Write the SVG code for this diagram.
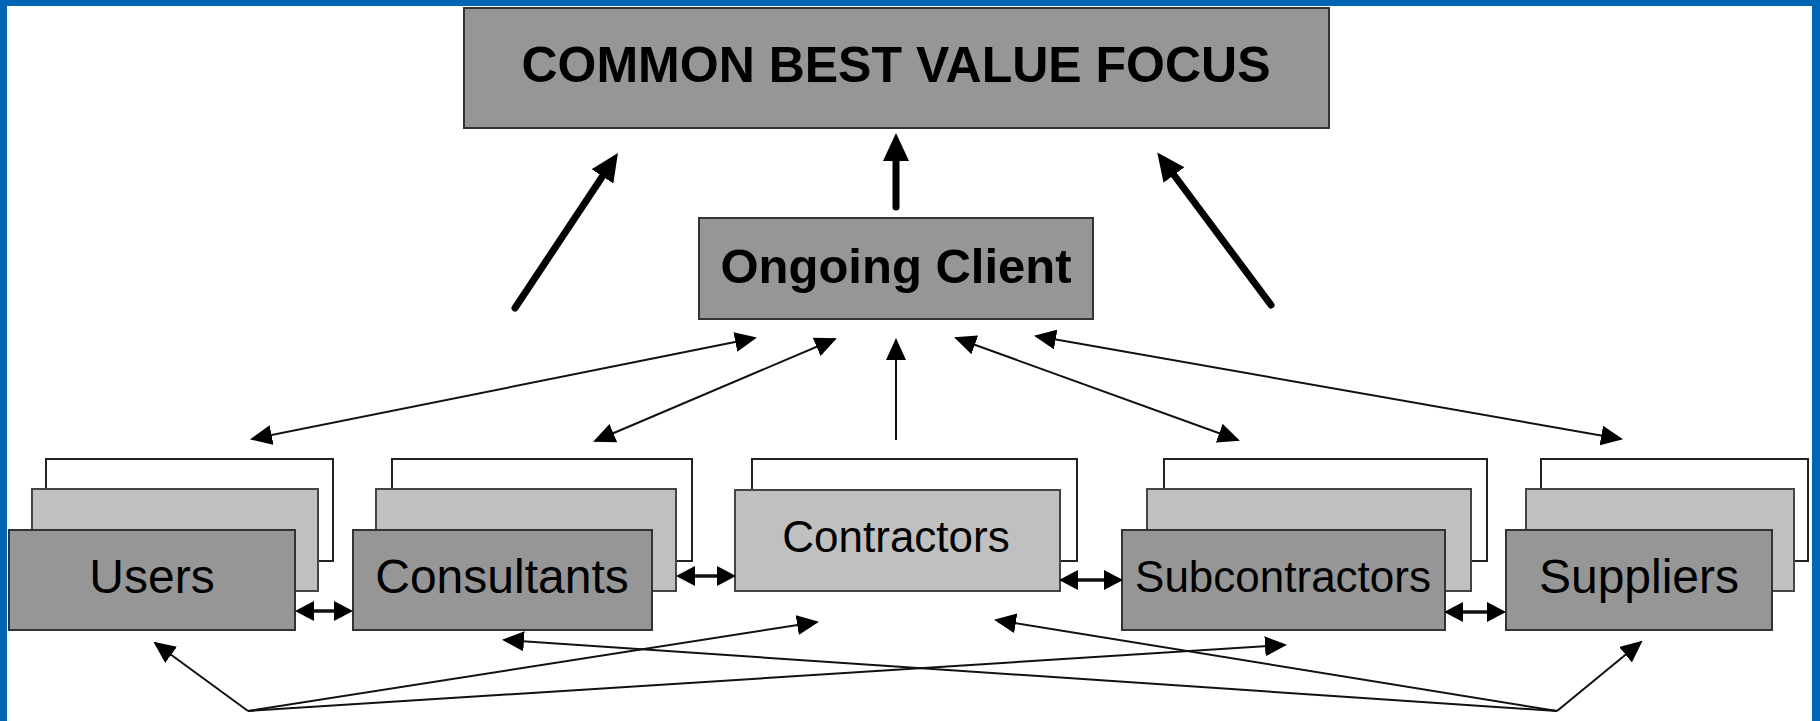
<svg xmlns="http://www.w3.org/2000/svg" width="1820" height="721" viewBox="0 0 1820 721">
<style>
.frame{fill:#0066b3}
.back{fill:#ffffff;stroke:#222;stroke-width:2}
.mid{fill:#c0c0c0;stroke:#444;stroke-width:2}
.front{fill:#969696;stroke:#333;stroke-width:2}
.lbl{font-family:"Liberation Sans",Arial,sans-serif;fill:#000;text-anchor:middle}
.bold{font-weight:bold}
.thin{stroke:#111;stroke-width:2;fill:none}
.thick{stroke:#000;stroke-width:7;stroke-linecap:round;fill:none}
.med{stroke:#111;stroke-width:3.5;fill:none}
</style>
<defs>
<marker id="ah" markerUnits="userSpaceOnUse" markerWidth="22" markerHeight="20" refX="20" refY="10" orient="auto-start-reverse">
<path d="M0,0 L22,10 L0,20 z" fill="#000"/>
</marker>
<marker id="ahBig" markerUnits="userSpaceOnUse" markerWidth="30" markerHeight="26" refX="10" refY="13" orient="auto">
<path d="M0,0 L28,13 L0,26 z" fill="#000"/>
</marker>
<marker id="ahMed" markerUnits="userSpaceOnUse" markerWidth="20" markerHeight="20" refX="8" refY="10" orient="auto-start-reverse">
<path d="M0,0 L19,10 L0,20 z" fill="#000"/>
</marker>
</defs>
<rect x="0" y="0" width="1820" height="721" fill="#ffffff"/>
<rect class="frame" x="0" y="0" width="1820" height="6"/>
<rect class="frame" x="0" y="0" width="7" height="721"/>
<rect class="frame" x="1812" y="0" width="8" height="721"/>

<g id="common-best-value-focus">
<rect class="front" x="464" y="8" width="865" height="120"/>
<text class="lbl bold" x="896" y="82" font-size="50">COMMON BEST VALUE FOCUS</text>
</g>

<g id="ongoing-client">
<rect class="front" x="699" y="218" width="394" height="101"/>
<text class="lbl bold" x="896" y="283" font-size="49">Ongoing Client</text>
</g>

<g id="users">
<rect class="back" x="46" y="459" width="287" height="102"/>
<rect class="mid" x="32" y="489" width="286" height="102"/>
<rect class="front" x="9" y="530" width="286" height="100"/>
<text class="lbl" x="152" y="593" font-size="48">Users</text>
</g>

<g id="consultants">
<rect class="back" x="392" y="459" width="300" height="102"/>
<rect class="mid" x="376" y="489" width="300" height="102"/>
<rect class="front" x="353" y="530" width="299" height="100"/>
<text class="lbl" x="502" y="593" font-size="48">Consultants</text>
</g>

<g id="contractors">
<rect class="back" x="752" y="459" width="325" height="102"/>
<rect class="mid" x="735" y="490" width="325" height="101"/>
<text class="lbl" x="896" y="552" font-size="44">Contractors</text>
</g>

<g id="subcontractors">
<rect class="back" x="1164" y="459" width="323" height="102"/>
<rect class="mid" x="1147" y="489" width="324" height="102"/>
<rect class="front" x="1122" y="530" width="323" height="100"/>
<text class="lbl" x="1283" y="592" font-size="44">Subcontractors</text>
</g>

<g id="suppliers">
<rect class="back" x="1541" y="459" width="267" height="102"/>
<rect class="mid" x="1526" y="489" width="268" height="102"/>
<rect class="front" x="1506" y="530" width="266" height="100"/>
<text class="lbl" x="1639" y="593" font-size="48">Suppliers</text>
</g>

<g id="connectors">
<line class="thick" x1="515" y1="308" x2="608" y2="168" marker-end="url(#ahBig)"/>
<line class="thick" x1="896" y1="207" x2="896" y2="151" marker-end="url(#ahBig)"/>
<line class="thick" x1="1271" y1="305" x2="1168" y2="167" marker-end="url(#ahBig)"/>

<line class="thin" x1="252" y1="439" x2="755" y2="338" marker-start="url(#ah)" marker-end="url(#ah)"/>
<line class="thin" x1="595" y1="441" x2="835" y2="339" marker-start="url(#ah)" marker-end="url(#ah)"/>
<line class="thin" x1="896" y1="440" x2="896" y2="340" marker-end="url(#ah)"/>
<line class="thin" x1="956" y1="338" x2="1238" y2="440" marker-start="url(#ah)" marker-end="url(#ah)"/>
<line class="thin" x1="1036" y1="336" x2="1621" y2="439" marker-start="url(#ah)" marker-end="url(#ah)"/>

<line class="med" x1="306" y1="611" x2="342" y2="611" marker-start="url(#ahMed)" marker-end="url(#ahMed)"/>
<line class="med" x1="687" y1="576" x2="725" y2="576" marker-start="url(#ahMed)" marker-end="url(#ahMed)"/>
<line class="med" x1="1070" y1="580" x2="1112" y2="580" marker-start="url(#ahMed)" marker-end="url(#ahMed)"/>
<line class="med" x1="1455" y1="612" x2="1495" y2="612" marker-start="url(#ahMed)" marker-end="url(#ahMed)"/>

<line class="thin" x1="248" y1="711" x2="155" y2="643" marker-end="url(#ah)"/>
<line class="thin" x1="248" y1="711" x2="817" y2="622" marker-end="url(#ah)"/>
<line class="thin" x1="248" y1="711" x2="1285" y2="645" marker-end="url(#ah)"/>
<line class="thin" x1="1557" y1="711" x2="1641" y2="642" marker-end="url(#ah)"/>
<line class="thin" x1="1557" y1="711" x2="996" y2="620" marker-end="url(#ah)"/>
<line class="thin" x1="1557" y1="711" x2="504" y2="640" marker-end="url(#ah)"/>
</g>
</svg>
